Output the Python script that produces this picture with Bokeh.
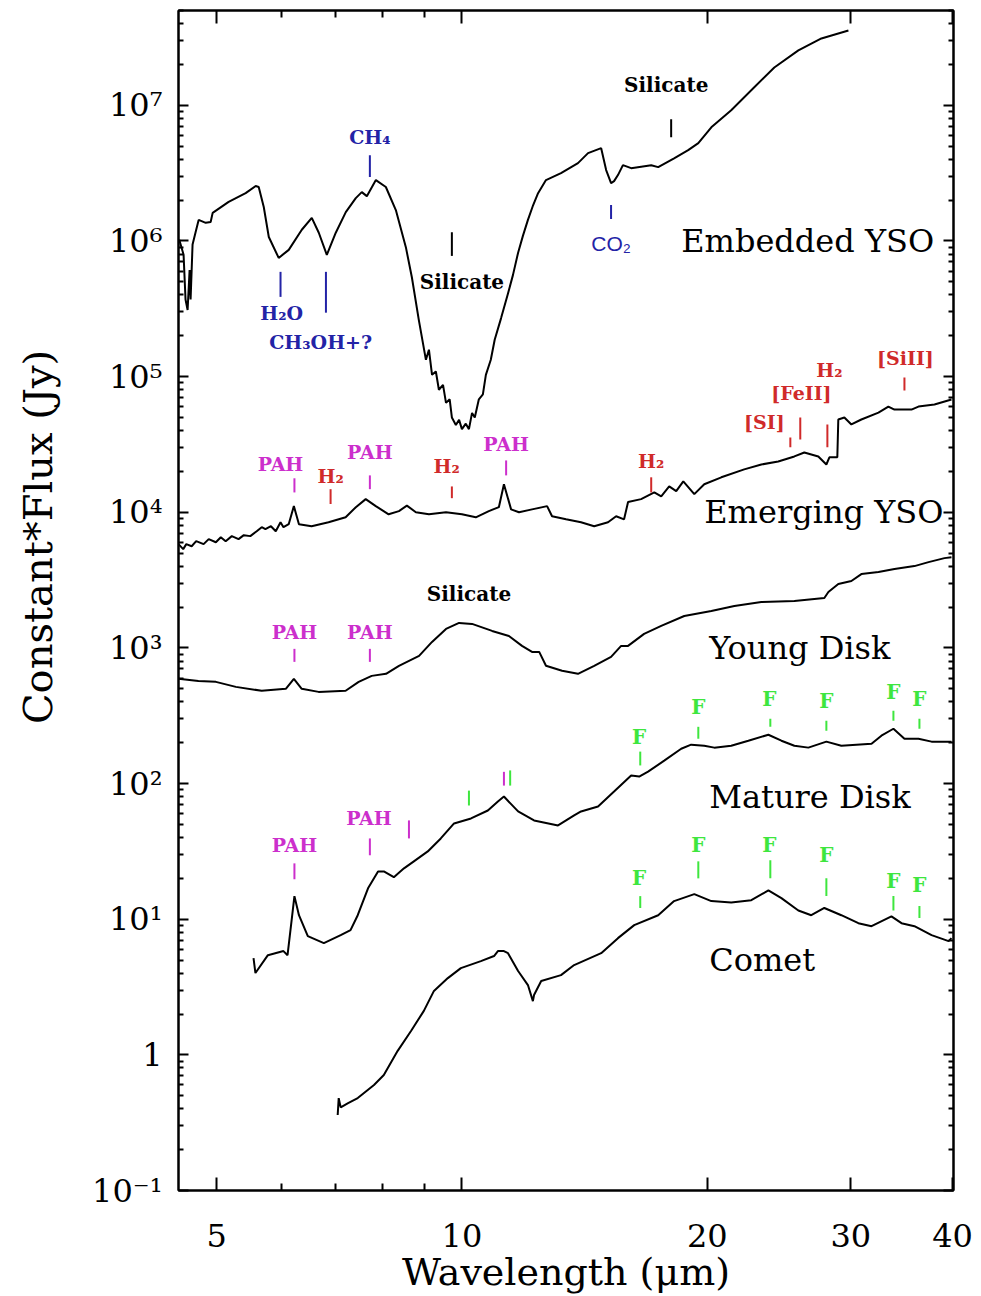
from bokeh.plotting import figure
from bokeh.models import ColumnDataSource, LogAxis, FixedTicker, CustomJSTickFormatter, Range1d
from bokeh.core.properties import value
from bokeh.embed import file_html
from bokeh.resources import INLINE

# ---------------- spectra (wavelength in micron, flux in Jy) ----------------
emb_wl = [4.50, 4.555, 4.58, 4.607, 4.633, 4.646, 4.672, 4.712, 4.753, 4.849,
          4.917, 4.945, 5.173, 5.428, 5.584, 5.632, 5.713, 5.795, 5.959, 6.131,
          6.361, 6.543, 6.674, 6.827, 7.002, 7.203, 7.409, 7.536, 7.644, 7.842,
          8.066, 8.297, 8.535, 8.681, 8.855, 9.033, 9.11, 9.19, 9.29, 9.37,
          9.48, 9.56, 9.66, 9.72, 9.83, 9.92, 10.0, 10.11, 10.2, 10.29,
          10.37, 10.49, 10.61, 10.70, 10.85, 10.97, 11.17, 11.39, 11.55, 11.72,
          11.88, 12.05, 12.23, 12.40, 12.68, 13.23, 13.88, 14.28, 14.82, 15.03,
          15.24, 15.37, 15.54, 15.76, 16.13, 17.07, 17.41, 18.21, 18.95, 19.50,
          20.23, 21.40, 22.84, 24.17, 25.87, 27.61, 29.80]
emb_fx = [1.02e6, 7.9e5, 3.7e5, 3.1e5, 6.1e5, 3.7e5, 9.4e5, 1.16e6, 1.43e6, 1.36e6,
          1.38e6, 1.61e6, 1.94e6, 2.25e6, 2.54e6, 2.50e6, 1.78e6, 1.07e6, 7.5e5, 8.6e5,
          1.21e6, 1.48e6, 1.15e6, 7.9e5, 1.15e6, 1.63e6, 2.07e6, 2.29e6, 2.14e6, 2.81e6,
          2.50e6, 1.69e6, 9.0e5, 5.4e5, 2.6e5, 1.33e5, 1.58e5, 1.03e5, 1.09e5, 8.0e4,
          8.7e4, 6.4e4, 6.8e4, 5.0e4, 4.4e4, 4.8e4, 4.1e4, 4.5e4, 4.1e4, 5.4e4,
          5.0e4, 6.8e4, 7.4e4, 1.03e5, 1.33e5, 1.87e5, 2.7e5, 4.1e5, 5.6e5, 8.2e5,
          1.09e6, 1.43e6, 1.84e6, 2.25e6, 2.81e6, 3.16e6, 3.75e6, 4.44e6, 4.83e6, 3.33e6,
          2.67e6, 2.76e6, 3.06e6, 3.62e6, 3.44e6, 3.62e6, 3.50e6, 4.07e6, 4.67e6, 5.26e6,
          6.89e6, 9.19e6, 1.36e7, 1.90e7, 2.54e7, 3.11e7, 3.56e7]

em_wl = [4.49, 4.55, 4.59, 4.66, 4.72, 4.82, 4.89, 4.99, 5.06, 5.13,
         5.22, 5.32, 5.40, 5.50, 5.60, 5.68, 5.74, 5.83, 5.91, 5.99,
         6.04, 6.13, 6.22, 6.31, 6.54, 6.86, 7.20, 7.41, 7.62, 7.84,
         8.13, 8.37, 8.56, 8.78, 9.11, 9.56, 10.0, 10.40, 10.79, 11.10,
         11.26, 11.49, 11.75, 12.19, 12.72, 12.90, 13.42, 14.00, 14.53, 15.11,
         15.46, 15.81, 15.99, 16.59, 17.22, 17.56, 17.96, 18.32, 18.69, 19.28,
         19.83, 20.81, 22.20, 23.30, 24.44, 25.58, 26.31, 27.37, 28.00, 28.24,
         28.88, 28.96, 29.46, 30.05, 30.91, 32.44, 33.36, 33.94, 35.61, 36.32,
         38.00, 39.87]
em_fx = [5820, 5350, 5820, 5620, 6120, 5820, 6340, 6010, 6550, 6120,
         6670, 6340, 6780, 6670, 7240, 7760, 7500, 7890, 7240, 8430,
         7760, 8170, 11100, 8170, 7890, 8430, 9180, 10900, 12500, 11100,
         9660, 10200, 11200, 10000, 9660, 10000, 9660, 9180, 10200, 10900,
         16100, 10500, 10000, 10500, 11100, 9350, 8870, 8430, 7890, 8430,
         9350, 8870, 11900, 12500, 14000, 13100, 15500, 14300, 16900, 13600,
         16100, 18100, 20700, 22500, 23700, 25800, 27600, 25800, 22500, 25400,
         25400, 48300, 50000, 44400, 48300, 54300, 60100, 57100, 57100, 60100,
         62200, 67800]

yd_wl = [4.49, 4.75, 4.99, 5.28, 5.68, 6.08, 6.22, 6.36, 6.67, 7.20,
         7.47, 7.75, 8.07, 8.37, 8.86, 9.19, 9.56, 9.92, 10.29, 10.89,
         11.42, 11.85, 12.19, 12.44, 12.68, 13.27, 13.88, 14.53, 15.24, 15.68,
         15.99, 16.73, 17.56, 18.74, 20.23, 21.59, 23.30, 25.58, 27.84, 28.16,
         28.96, 30.05, 30.91, 32.44, 33.94, 35.91, 37.37, 39.09, 39.87]
yd_fx = [592, 571, 562, 516, 483, 499, 592, 499, 474, 483,
         562, 622, 644, 738, 873, 1107, 1380, 1528, 1503, 1334,
         1225, 1035, 934, 934, 738, 678, 644, 738, 859, 1035,
         1035, 1268, 1452, 1718, 1871, 2037, 2178, 2215, 2333, 2582,
         2958, 3112, 3500, 3622, 3811, 4010, 4290, 4590, 4667]

md_wl = [5.55, 5.58, 5.78, 6.04, 6.11, 6.20, 6.23, 6.31, 6.47, 6.77,
         7.10, 7.30, 7.45, 7.67, 7.89, 8.02, 8.25, 8.49, 8.73, 9.08,
         9.42, 9.78, 10.26, 10.76, 11.07, 11.26, 11.72, 12.26, 13.12, 13.73,
         14.00, 14.69, 15.37, 16.13, 16.50, 16.92, 17.71, 18.58, 19.11, 19.83,
         20.40, 21.40, 22.46, 23.77, 24.66, 25.58, 26.61, 28.00, 29.21, 31.81,
         32.71, 33.84, 34.91, 36.32, 37.69, 39.87]
md_fx = [5.16, 4.01, 5.43, 5.82, 5.43, 11.5, 14.8, 10.7, 7.50, 6.67,
         7.63, 8.30, 10.7, 16.9, 22.5, 22.5, 20.4, 23.7, 26.7, 31.6,
         39.4, 50.8, 55.3, 63.3, 73.8, 80.2, 62.3, 53.5, 49.1, 58.2,
         62.3, 67.8, 87.3, 114.5, 112.5, 122.4, 147.5, 180.7, 193.6, 190.1,
         184.0, 190.1, 207.0, 229.1, 207.0, 190.1, 184.0, 203.7, 190.1, 196.8,
         225.4, 253.5, 214.3, 214.3, 203.7, 203.7]

cm_wl = [7.04, 7.06, 7.10, 7.25, 7.45, 7.80, 8.02, 8.34, 8.66, 8.98,
         9.24, 9.61, 9.97, 10.55, 10.95, 11.07, 11.26, 11.39, 11.72, 12.05,
         12.22, 12.26, 12.51, 13.23, 13.73, 14.82, 15.54, 16.27, 17.41, 18.21,
         19.28, 20.23, 21.40, 22.65, 23.77, 24.66, 25.87, 26.83, 27.84, 29.21,
         30.65, 31.81, 33.65, 34.62, 35.91, 37.69, 39.55, 39.87]
cm_fx = [0.36, 0.48, 0.41, 0.44, 0.48, 0.60, 0.71, 1.07, 1.50, 2.11,
         2.96, 3.68, 4.36, 4.91, 5.35, 5.82, 5.82, 5.62, 4.15, 3.27,
         2.49, 2.76, 3.50, 3.87, 4.59, 5.62, 7.25, 9.04, 10.7, 13.6,
         15.3, 13.6, 13.3, 13.8, 16.3, 14.3, 11.6, 10.7, 12.1, 10.7,
         9.35, 8.88, 10.5, 9.35, 8.88, 7.63, 6.89, 7.25]

# ---------------- feature markers ----------------
blue_tick_x = [5.99, 6.81, 7.71, 15.24]
blue_tick_lo = [3.87e5, 2.96e5, 2.96e6, 1.45e6]
blue_tick_hi = [5.92e5, 5.92e5, 4.29e6, 1.84e6]
blue_lab_x = [6.01, 6.71, 7.71]
blue_lab_y = [2.96e5, 1.81e5, 5.82e6]
blue_lab_t = ["H\u2082O", "CH\u2083OH+?", "CH\u2084"]
co2_lab = ("CO\u2082", 15.24, 9.66e5)

blk_tick_x = [9.72, 18.06]
blk_tick_lo = [7.76e5, 5.82e6]
blk_tick_hi = [1.16e6, 7.89e6]
blk_lab_x = [10.0, 17.81, 10.20]
blk_lab_y = [4.99e5, 1.40e7, 2.49e3]
blk_lab_t = ["Silicate", "Silicate", "Silicate"]

mag_tick_x = [6.23, 7.71, 11.33, 6.23, 7.71, 6.23, 7.71, 8.61, 11.26]
mag_tick_lo = [1.40e4, 1.48e4, 1.87e4, 789, 789, 19.7, 29.6, 39.4, 96.6]
mag_tick_hi = [1.78e4, 1.87e4, 2.41e4, 984, 984, 25.8, 39.4, 53.5, 122]
pah_lab_x = [5.99, 7.71, 11.33, 6.23, 7.71, 6.23, 7.69]
pah_lab_y = [2.25e4, 2.76e4, 3.16e4, 1.31e3, 1.31e3, 35.0, 55.3]

red_tick_x = [6.90, 9.72, 17.07, 25.29, 26.01, 28.08, 34.91]
red_tick_lo = [1.15e4, 1.27e4, 1.40e4, 3.01e4, 3.44e4, 3.01e4, 7.89e4]
red_tick_hi = [1.48e4, 1.55e4, 1.81e4, 3.56e4, 5.00e4, 4.44e4, 9.84e4]
red_lab_x = [6.90, 9.58, 17.07, 23.50, 26.09, 28.24, 35.01]
red_lab_y = [1.84e4, 2.18e4, 2.37e4, 4.59e4, 7.62e4, 1.12e5, 1.38e5]
red_lab_t = ["H\u2082", "H\u2082", "H\u2082", "[SI]", "[FeII]", "H\u2082", "[SiII]"]

grn_tick_x = [10.20, 11.46, 16.55, 19.50, 23.90, 28.00, 33.84, 36.42,
              16.55, 19.50, 23.90, 28.00, 33.84, 36.42]
grn_tick_lo = [68.9, 96.6, 136, 214, 262, 245, 290, 254,
               12.1, 20.0, 20.0, 14.8, 11.6, 10.2]
grn_tick_hi = [88.7, 125, 172, 262, 301, 290, 344, 301,
               14.8, 26.7, 27.2, 20.0, 14.8, 12.5]
f_lab_x = [16.50, 19.50, 23.83, 28.00, 33.84, 36.42,
           16.50, 19.50, 23.83, 28.00, 33.84, 36.42]
f_lab_y = [222, 368, 422, 407, 474, 422,
           20.0, 35.0, 35.0, 29.6, 19.0, 17.8]

name_t = ["Embedded YSO", "Emerging YSO", "Young Disk", "Mature Disk", "Comet"]
name_x = [18.58, 19.83, 20.11, 20.11, 20.11]
name_y = [1.0e6, 1.0e4, 1.0e3, 80.2, 4.99]

x_major = [5, 10, 20, 30, 40]
x_minor = [6, 7, 8, 9]
y_major = [10.0 ** n for n in range(-1, 8)]
y_minor = [k * 10.0 ** n for n in range(-1, 8) for k in range(2, 10)]

# ---------------- figure ----------------
p = figure(width=981, height=1296, x_axis_type="log", y_axis_type="log",
           x_range=Range1d(4.49, 40.1), y_range=Range1d(0.1, 5.0e7),
           output_backend="svg", toolbar_location=None,
           min_border_left=178, min_border_right=28, min_border_top=10,
           min_border_bottom=103)
p.xgrid.visible = False
p.ygrid.visible = False
p.outline_line_color = "black"
p.outline_line_width = 2
p.background_fill_color = "white"
p.border_fill_color = "white"

SERIF = "DejaVu Serif"

xb = p.xaxis[0]
yl = p.yaxis[0]
xb.ticker = FixedTicker(ticks=x_major, minor_ticks=x_minor)
xb.formatter = CustomJSTickFormatter(code="return String(Math.round(tick));")
yl.ticker = FixedTicker(ticks=y_major, minor_ticks=y_minor)
yl.formatter = CustomJSTickFormatter(code="""
const e = Math.round(Math.log10(tick));
if (e === 0) { return '1'; }
const sup = {'-':'\u207b','0':'\u2070','1':'\u00b9','2':'\u00b2','3':'\u00b3','4':'\u2074','5':'\u2075','6':'\u2076','7':'\u2077','8':'\u2078','9':'\u2079'};
return '10' + String(e).split('').map(c => sup[c]).join('');
""")

xt = LogAxis(ticker=FixedTicker(ticks=x_major, minor_ticks=x_minor),
             formatter=CustomJSTickFormatter(code="return '';"))
yr = LogAxis(ticker=FixedTicker(ticks=y_major, minor_ticks=y_minor),
             formatter=CustomJSTickFormatter(code="return '';"))
p.add_layout(xt, "above")
p.add_layout(yr, "right")

for ax in (xb, xt):
    ax.major_tick_in = 13
    ax.minor_tick_in = 7
for ax in (yl, yr):
    ax.major_tick_in = 10
    ax.minor_tick_in = 5
for ax in (xb, xt, yl, yr):
    ax.major_tick_out = 0
    ax.minor_tick_out = 0
    ax.axis_line_width = 2
    ax.major_tick_line_width = 2
    ax.minor_tick_line_width = 2
    ax.axis_line_color = "black"
    ax.major_tick_line_color = "black"
    ax.minor_tick_line_color = "black"
    ax.major_label_text_font = SERIF
    ax.major_label_text_font_size = "32px"
    ax.major_label_text_color = "black"
for ax in (xt, yr):
    ax.major_label_standoff = 0

xb.major_label_standoff = 33
yl.major_label_standoff = 16
xb.axis_label = "Wavelength (\u03bcm)"
# leading no-break spaces shift the visible label upward, as in the original
yl.axis_label = "\u00a0" * 10 + "Constant*Flux (Jy)"
for ax in (xb, yl):
    ax.axis_label_text_font = SERIF
    ax.axis_label_text_font_style = "normal"
    ax.axis_label_text_color = "black"
xb.axis_label_text_font_size = "38px"
yl.axis_label_text_font_size = "40px"
xb.axis_label_standoff = 0
yl.axis_label_standoff = 28

# spectra
for wl, fx in ((emb_wl, emb_fx), (em_wl, em_fx), (yd_wl, yd_fx), (md_wl, md_fx), (cm_wl, cm_fx)):
    p.line(wl, fx, line_color="black", line_width=2)

# marker ticks
BLUE = "#2323a6"
MAG = "#cc2fcc"
RED = "#d02a2a"
GRN = "#3ee63e"
for xs, lo, hi, col in ((blue_tick_x, blue_tick_lo, blue_tick_hi, BLUE),
                        (blk_tick_x, blk_tick_lo, blk_tick_hi, "black"),
                        (mag_tick_x, mag_tick_lo, mag_tick_hi, MAG),
                        (red_tick_x, red_tick_lo, red_tick_hi, RED),
                        (grn_tick_x, grn_tick_lo, grn_tick_hi, GRN)):
    p.segment(x0=xs, y0=lo, x1=xs, y1=hi, line_color=col, line_width=2)

def labels(xs, ys, ts, col, size, font=SERIF, style="bold", align="center"):
    src = ColumnDataSource(dict(x=xs, y=ys, t=ts))
    p.text(x="x", y="y", text="t", source=src, text_color=col,
           text_font=value(font), text_font_style=style, text_font_size=size,
           text_align=align, text_baseline="middle")

labels(blue_lab_x, blue_lab_y, blue_lab_t, BLUE, "19px")
labels([co2_lab[1]], [co2_lab[2]], [co2_lab[0]], BLUE, "21px", font="Liberation Sans", style="normal")
labels(blk_lab_x, blk_lab_y, blk_lab_t, "black", "20px")
labels(pah_lab_x, pah_lab_y, ["PAH"] * len(pah_lab_x), MAG, "19px")
labels(red_lab_x, red_lab_y, red_lab_t, RED, "19px")
labels(f_lab_x, f_lab_y, ["F"] * len(f_lab_x), GRN, "20px")
labels(name_x, name_y, name_t, "black", "32px", style="normal", align="left")

open("out.html", "w").write(file_html(p, INLINE))
